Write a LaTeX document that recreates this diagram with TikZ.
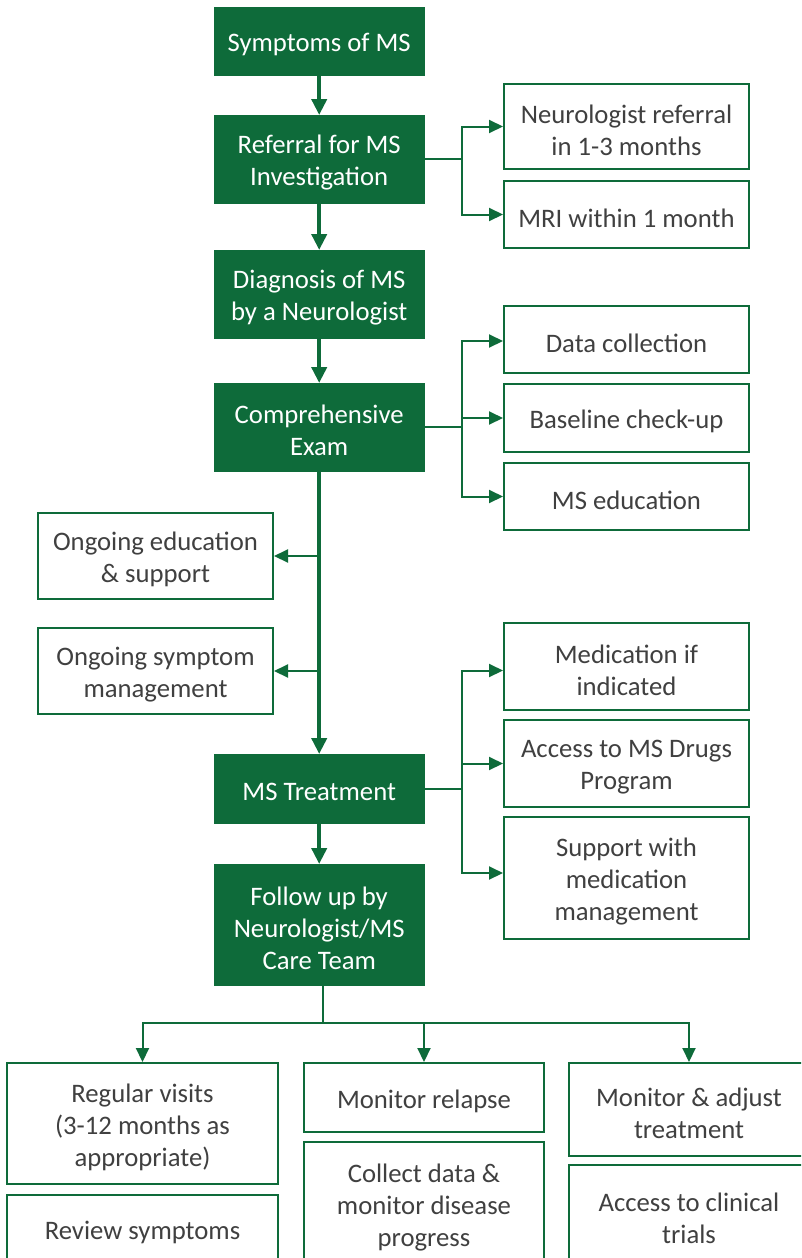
\documentclass[tikz,border=0pt]{standalone}
\usepackage{fontspec}
\setmainfont{Carlito}
\usetikzlibrary{arrows.meta}
\definecolor{msgreen}{HTML}{0E6B3A}
\definecolor{txtgray}{HTML}{404040}

% #1 box style, #2 name, #3 x, #4 y (top-left), #5 width, #6 height, #7 text
\newcommand{\flowbox}[7]{%
  \node[#1, minimum width=#5pt, minimum height=#6pt] (#2) at (#3,#4) {};
  \node[#1text] (#2-t) at ([yshift=-3.5pt]#2.center) {#7};}

\begin{document}
\begin{tikzpicture}[x=1pt,y=-1pt,
  font=\fontsize{26.7}{32}\selectfont,
  gbox/.style={fill=msgreen, draw=msgreen, inner sep=0pt, anchor=north west},
  gboxtext/.style={text=white, align=center, inner sep=0pt},
  wbox/.style={fill=white, draw=msgreen, line width=2pt, inner sep=0pt, anchor=north west},
  wboxtext/.style={text=txtgray, align=center, inner sep=0pt},
  trunk/.style={draw=msgreen, line width=4pt, -{Triangle[length=16pt,width=15pt]}},
  branch/.style={draw=msgreen, line width=2pt, -{Triangle[length=14pt,width=13pt]}},
  plainline/.style={draw=msgreen, line width=2pt},
]
\useasboundingbox (0,0) rectangle (801,1258);
\clip (0,0) rectangle (801,1258);
\fill[white] (0,0) rectangle (801,1258);

% main column
\flowbox{gbox}{sym}{214}{7}{210}{68}{Symptoms of MS}
\flowbox{gbox}{ref}{214}{115}{210}{88}{Referral for MS\\Investigation}
\flowbox{gbox}{dia}{214}{250}{210}{88}{Diagnosis of MS\\by a Neurologist}
\flowbox{gbox}{com}{214}{383}{210}{88}{Comprehensive\\Exam}
\flowbox{gbox}{trt}{214}{754}{210}{69}{MS Treatment}
\flowbox{gbox}{fol}{214}{864}{210}{121}{Follow up by\\Neurologist/MS\\Care Team}

% right-hand boxes
\flowbox{wbox}{nr}{503}{83}{245}{85}{Neurologist referral\\in 1-3 months}
\flowbox{wbox}{mri}{503}{180}{245}{67}{MRI within 1 month}
\flowbox{wbox}{dat}{503}{305}{245}{67}{Data collection}
\flowbox{wbox}{bas}{503}{383}{245}{68}{Baseline check-up}
\flowbox{wbox}{edm}{503}{462}{245}{67}{MS education}
\flowbox{wbox}{med}{503}{622}{245}{87}{Medication if\\indicated}
\flowbox{wbox}{drg}{503}{719}{245}{87}{Access to MS Drugs\\Program}
\flowbox{wbox}{sup}{503}{816}{245}{122}{Support with\\medication\\management}

% left-hand boxes
\flowbox{wbox}{edu}{37}{512}{235}{86}{Ongoing education\\\& support}
\flowbox{wbox}{sym2}{37}{627}{235}{86}{Ongoing symptom\\management}

% bottom row
\flowbox{wbox}{reg}{6}{1062}{271}{121}{Regular visits\\(3-12 months as\\appropriate)}
\flowbox{wbox}{rev}{6}{1194}{271}{68}{Review symptoms}
\flowbox{wbox}{rel}{303}{1062}{240}{69}{Monitor relapse}
\flowbox{wbox}{col}{303}{1141}{240}{124}{Collect data \&\\monitor disease\\progress}
\flowbox{wbox}{adj}{568}{1062}{240}{93}{Monitor \& adjust\\treatment}
\flowbox{wbox}{cli}{568}{1164}{240}{100}{Access to clinical\\trials}

% main flow
\draw[trunk] (sym.south) -- (ref.north);
\draw[trunk] (ref.south) -- (dia.north);
\draw[trunk] (dia.south) -- (com.north);
\draw[trunk] (com.south) -- (trt.north);
\draw[trunk] (trt.south) -- (fol.north);

% referral branches
\draw[branch] (ref.east) -- ++(38,0) |- (nr.west);
\draw[branch] (ref.east) -- ++(38,0) |- (mri.west);

% exam branches
\draw[branch] (com.east) -- ++(38,0) |- ([yshift=-1.5pt]dat.west);
\draw[branch] (com.east) -- ++(38,0) |- (bas.west);
\draw[branch] (com.east) -- ++(38,0) |- (edm.west);

% ongoing care off the trunk
\draw[branch] (com.south |- edu.east) -- (edu.east);
\draw[branch] (com.south |- sym2.east) -- (sym2.east);

% treatment branches
\draw[branch] (trt.east) -- ++(38,0) |- ([yshift=-4pt]med.west);
\draw[branch] (trt.east) -- ++(38,0) |- (drg.west);
\draw[branch] (trt.east) -- ++(38,0) |- ([yshift=5pt]sup.west);

% follow-up fan-out
\coordinate (fj) at ([xshift=4pt]fol.south);
\draw[plainline] (fj) -- ++(0,38) coordinate (hb);
\draw[branch] (hb) -| (reg.north);
\draw[branch] (hb) -| (rel.north);
\draw[branch] (hb) -| (adj.north);
\end{tikzpicture}
\end{document}
